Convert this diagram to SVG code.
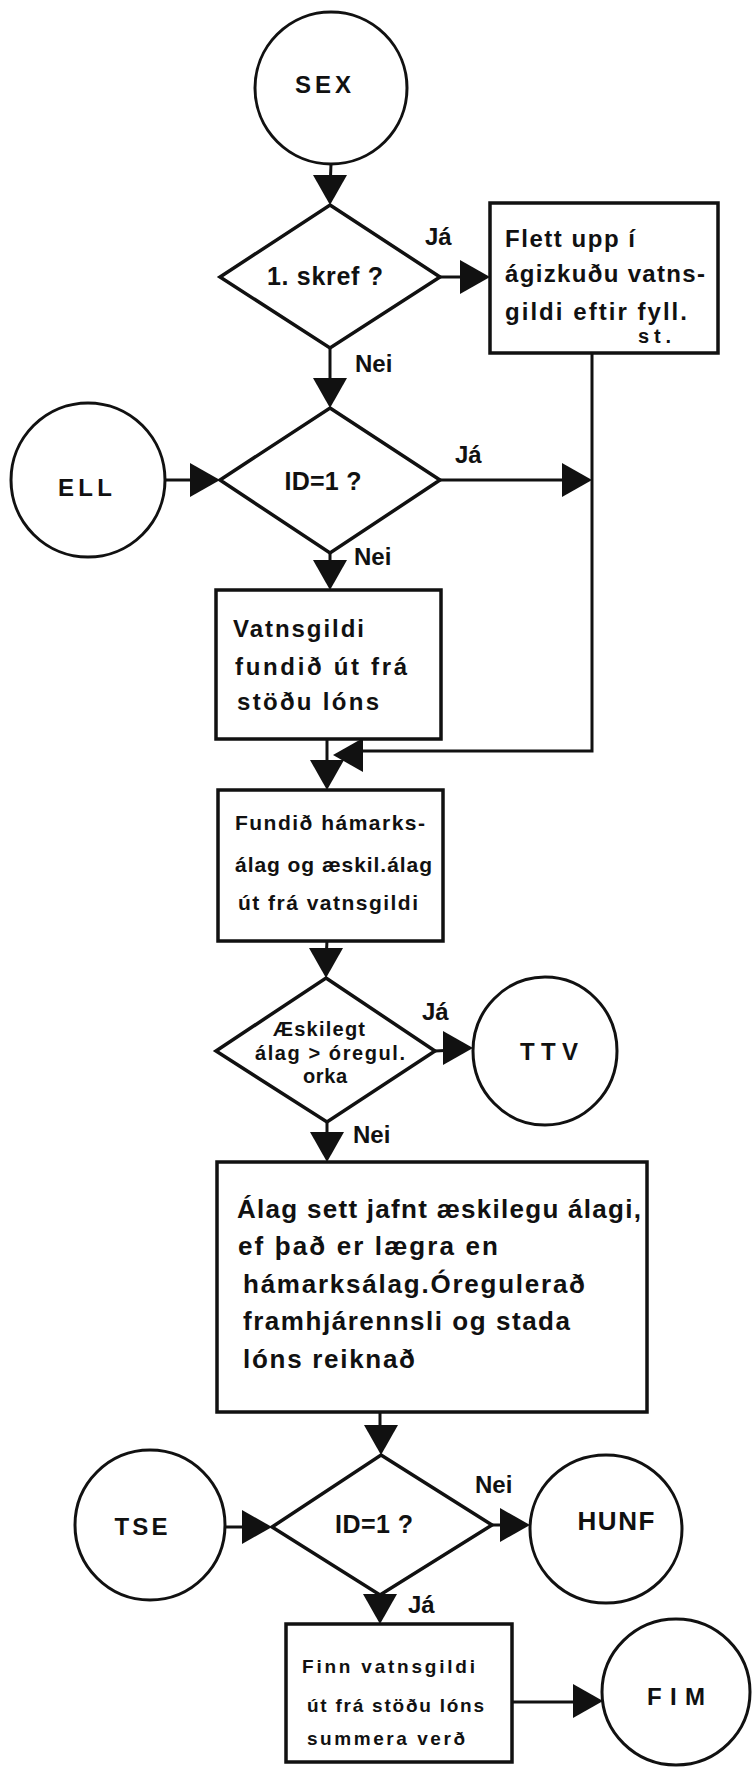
<svg xmlns="http://www.w3.org/2000/svg" xmlns:xlink="http://www.w3.org/1999/xlink" width="752" height="1768" viewBox="0 0 752 1768">
  <style>
    .shape { fill: none; stroke: #111; stroke-width: 3.5; stroke-linejoin: miter; }
    .term { fill: none; stroke: #111; stroke-width: 3; }
    .wire { fill: none; stroke: #111; stroke-width: 3; }
    .head { fill: #111; stroke: none; }
    text { font-family: "Liberation Sans", Arial, sans-serif; font-weight: bold; fill: #111; }
    .t-term { font-size: 24px; text-anchor: middle; }
    .t-dec { font-size: 25px; text-anchor: middle; }
    .t-dec-s { font-size: 20px; text-anchor: middle; }
    .t-lbl { font-size: 24px; }
    .t-b1 { font-size: 24px; }
    .t-b2 { font-size: 24px; }
    .t-b3 { font-size: 21px; }
    .t-b4 { font-size: 26px; }
    .t-b5 { font-size: 19px; }
  </style>
  <defs>
    <!-- filled arrowhead, tip at the origin, pointing along +x -->
    <path id="ah" class="head" d="M0,0 L-30,-17 L-30,17 Z"/>
  </defs>

  <rect x="0" y="0" width="752" height="1768" fill="#fff"/>

  <!-- connectors -->
  <g id="connectors">
    <line class="wire" x1="331" y1="164" x2="330" y2="190"/>
    <use xlink:href="#ah" transform="translate(330,205) rotate(90)"/>

    <line class="wire" x1="440" y1="277" x2="470" y2="277"/>
    <use xlink:href="#ah" transform="translate(490,277)"/>

    <line class="wire" x1="330" y1="348" x2="330" y2="390"/>
    <use xlink:href="#ah" transform="translate(330,408) rotate(90)"/>

    <line class="wire" x1="165" y1="480" x2="200" y2="480"/>
    <use xlink:href="#ah" transform="translate(220,480)"/>

    <line class="wire" x1="440" y1="480" x2="575" y2="480"/>
    <use xlink:href="#ah" transform="translate(592,480)"/>

    <polyline class="wire" points="592,353 592,751 350,751"/>
    <use xlink:href="#ah" transform="translate(333,755) rotate(180)"/>

    <line class="wire" x1="330" y1="553" x2="330" y2="575"/>
    <use xlink:href="#ah" transform="translate(330,590) rotate(90)"/>

    <line class="wire" x1="327" y1="739" x2="327" y2="770"/>
    <use xlink:href="#ah" transform="translate(327,790) rotate(90)"/>

    <line class="wire" x1="327" y1="941" x2="326" y2="960"/>
    <use xlink:href="#ah" transform="translate(326,978) rotate(90)"/>

    <line class="wire" x1="435" y1="1051" x2="455" y2="1050"/>
    <use xlink:href="#ah" transform="translate(473,1048)"/>

    <line class="wire" x1="327" y1="1122" x2="327" y2="1145"/>
    <use xlink:href="#ah" transform="translate(327,1162) rotate(90)"/>

    <line class="wire" x1="380" y1="1412" x2="380" y2="1435"/>
    <use xlink:href="#ah" transform="translate(381,1455) rotate(90)"/>

    <line class="wire" x1="225" y1="1527" x2="250" y2="1527"/>
    <use xlink:href="#ah" transform="translate(272,1527)"/>

    <line class="wire" x1="492" y1="1525" x2="510" y2="1525"/>
    <use xlink:href="#ah" transform="translate(530,1525)"/>

    <line class="wire" x1="380" y1="1595" x2="380" y2="1605"/>
    <use xlink:href="#ah" transform="translate(380,1624) rotate(90)"/>

    <line class="wire" x1="512" y1="1702" x2="585" y2="1702"/>
    <use xlink:href="#ah" transform="translate(603,1701)"/>

    <!-- branch labels -->
    <text class="t-lbl" x="425" y="245">Já</text>
    <text class="t-lbl" x="355" y="372">Nei</text>
    <text class="t-lbl" x="455" y="463">Já</text>
    <text class="t-lbl" x="354" y="565">Nei</text>
    <text class="t-lbl" x="422" y="1020">Já</text>
    <text class="t-lbl" x="353" y="1143">Nei</text>
    <text class="t-lbl" x="475" y="1493">Nei</text>
    <text class="t-lbl" x="408" y="1613">Já</text>
  </g>

  <!-- terminals -->
  <g id="sex">
    <ellipse class="term" cx="331" cy="88" rx="76" ry="76"/>
    <text class="t-term" x="323" y="93" textLength="56">SEX</text>
  </g>
  <g id="ell">
    <ellipse class="term" cx="88" cy="480" rx="77" ry="77"/>
    <text class="t-term" x="85" y="496" textLength="54">ELL</text>
  </g>
  <g id="ttv">
    <ellipse class="term" cx="545" cy="1051" rx="72" ry="74"/>
    <text class="t-term" x="549" y="1060" textLength="58">TTV</text>
  </g>
  <g id="tse">
    <ellipse class="term" cx="150" cy="1525" rx="75" ry="75"/>
    <text class="t-term" x="141" y="1535" textLength="53">TSE</text>
  </g>
  <g id="hunf">
    <ellipse class="term" cx="606" cy="1529" rx="76" ry="74"/>
    <text class="t-term" x="616" y="1530" style="font-size:26px" textLength="77">HUNF</text>
  </g>
  <g id="fim">
    <ellipse class="term" cx="676" cy="1692" rx="74" ry="73"/>
    <text class="t-term" x="676" y="1705" textLength="58">FIM</text>
  </g>

  <!-- decisions -->
  <g id="d-skref">
    <polygon class="shape" points="330,205 440,277 330,348 220,277"/>
    <text class="t-dec" x="325" y="285" textLength="116">1. skref ?</text>
  </g>
  <g id="d-id1">
    <polygon class="shape" points="330,408 440,480 330,553 220,480"/>
    <text class="t-dec" x="323" y="490" textLength="77">ID=1 ?</text>
  </g>
  <g id="d-alag">
    <polygon class="shape" points="326,978 435,1051 327,1122 216,1051"/>
    <text class="t-dec-s" x="319" y="1036" textLength="92">Æskilegt</text>
    <text class="t-dec-s" x="330" y="1060" textLength="150">álag &gt; óregul.</text>
    <text class="t-dec-s" x="325" y="1083" textLength="44">orka</text>
  </g>
  <g id="d-id2">
    <polygon class="shape" points="381,1455 492,1525 380,1595 272,1527"/>
    <text class="t-dec" x="374" y="1533" textLength="78">ID=1 ?</text>
  </g>

  <!-- process boxes -->
  <g id="b-flett">
    <rect class="shape" x="490" y="203" width="228" height="150"/>
    <text class="t-b1" x="505" y="247" textLength="130">Flett upp í</text>
    <text class="t-b1" x="505" y="282" textLength="200">ágizkuðu vatns-</text>
    <text class="t-b1" x="505" y="320" textLength="182">gildi eftir fyll.</text>
    <text class="t-b1" x="638" y="343" style="font-size:20px" textLength="33">st.</text>
  </g>
  <g id="b-vatnsgildi">
    <rect class="shape" x="216" y="590" width="225" height="149"/>
    <text class="t-b2" x="233" y="637" textLength="131">Vatnsgildi</text>
    <text class="t-b2" x="235" y="675" textLength="172">fundið út frá</text>
    <text class="t-b2" x="237" y="710" textLength="142">stöðu lóns</text>
  </g>
  <g id="b-hamark">
    <rect class="shape" x="218" y="790" width="225" height="151"/>
    <text class="t-b3" x="235" y="830" textLength="190">Fundið hámarks-</text>
    <text class="t-b3" x="235" y="872" textLength="197">álag og æskil.álag</text>
    <text class="t-b3" x="238" y="910" textLength="180">út frá vatnsgildi</text>
  </g>
  <g id="b-alag">
    <rect class="shape" x="217" y="1162" width="430" height="250"/>
    <text class="t-b4" x="237" y="1218" textLength="404">Álag sett jafnt æskilegu álagi,</text>
    <text class="t-b4" x="238" y="1255" textLength="260">ef það er lægra en</text>
    <text class="t-b4" x="243" y="1293" textLength="342">hámarksálag.Óregulerað</text>
    <text class="t-b4" x="243" y="1330" textLength="327">framhjárennsli og stada</text>
    <text class="t-b4" x="243" y="1368" textLength="172">lóns reiknað</text>
  </g>
  <g id="b-finn">
    <rect class="shape" x="286" y="1624" width="226" height="138"/>
    <text class="t-b5" x="302" y="1673" textLength="173">Finn vatnsgildi</text>
    <text class="t-b5" x="307" y="1712" textLength="177">út frá stöðu lóns</text>
    <text class="t-b5" x="307" y="1745" textLength="158">summera verð</text>
  </g>
</svg>
